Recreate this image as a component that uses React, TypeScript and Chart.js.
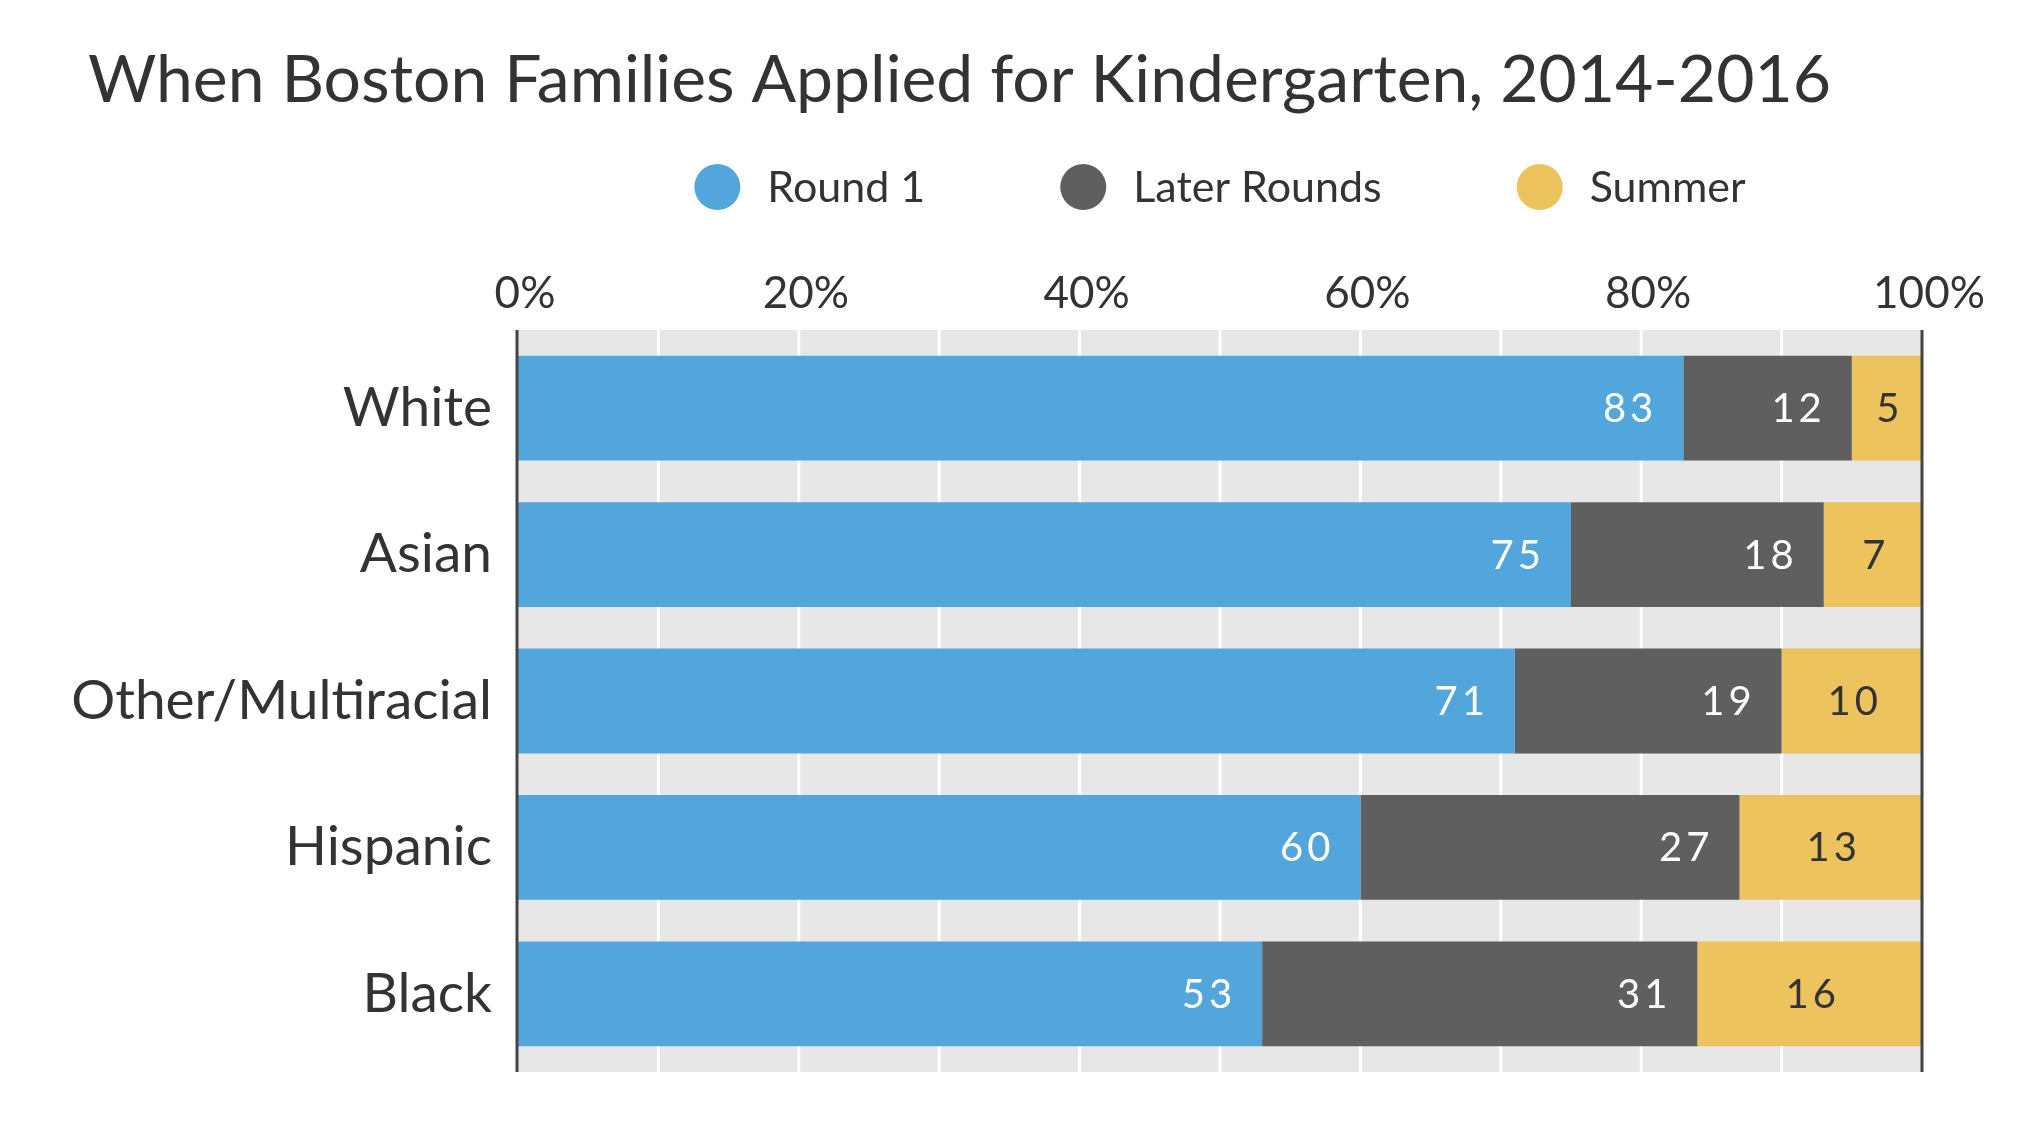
import React, { useEffect, useRef } from "react";
import { Chart, registerables } from "chart.js";

Chart.register(...registerables);

const titleText = "When Boston Families Applied for Kindergarten, 2014-2016";
const categories = ["White", "Asian", "Other/Multiracial", "Hispanic", "Black"];
const seriesNames = ["Round 1", "Later Rounds", "Summer"];
const round1 = [83, 75, 71, 60, 53];
const laterRounds = [12, 18, 19, 27, 31];
const summer = [5, 7, 10, 13, 16];
const xLabelEvery = 20;

const FONT = "Lato, 'Source Sans Pro', 'Open Sans', sans-serif";
const COLORS = ["#52a6db", "#5f5f5f", "#ecc35c"];
const LABEL_COLORS = ["#ffffff", "#ffffff", "#333333"];
const TEXT = "#333333";
const EXT = 5;

const decorPlugin = {
  id: "decor",
  beforeDatasetsDraw(chart: any) {
    const { ctx, chartArea } = chart;
    const xs = chart.scales.x;
    const top = chartArea.top - EXT;
    const bottom = chartArea.bottom + EXT;
    ctx.save();
    ctx.fillStyle = "#e7e7e7";
    ctx.fillRect(chartArea.left, top, chartArea.right - chartArea.left, bottom - top);
    ctx.strokeStyle = "#ffffff";
    ctx.lineWidth = 3;
    xs.ticks.forEach((t: any) => {
      if (t.value <= xs.min || t.value >= xs.max) return;
      const px = xs.getPixelForValue(t.value);
      ctx.beginPath();
      ctx.moveTo(px, top);
      ctx.lineTo(px, bottom);
      ctx.stroke();
    });
    ctx.restore();
  },
  afterDatasetsDraw(chart: any) {
    const { ctx, chartArea } = chart;
    const xs = chart.scales.x;
    const top = chartArea.top - EXT;
    const bottom = chartArea.bottom + EXT;
    ctx.save();
    // value labels
    ctx.font = `40px ${FONT}`;
    (ctx as any).letterSpacing = "4px";
    ctx.textBaseline = "middle";
    chart.data.datasets.forEach((ds: any, di: number) => {
      const meta = chart.getDatasetMeta(di);
      meta.data.forEach((bar: any, i: number) => {
        const v = ds.data[i];
        ctx.fillStyle = LABEL_COLORS[di];
        if (di < 2) {
          ctx.textAlign = "right";
          ctx.fillText(String(v), bar.x - 26, bar.y + 1);
        } else {
          ctx.textAlign = "center";
          ctx.fillText(String(v), (bar.x + bar.base) / 2 + 3, bar.y + 1);
        }
      });
    });
    (ctx as any).letterSpacing = "0px";
    // axis lines at 0% and 100%
    ctx.strokeStyle = "#444444";
    ctx.lineWidth = 3;
    [xs.min, xs.max].forEach((v: number, k: number) => {
      const px = xs.getPixelForValue(v) + (k === 0 ? -1 : 0);
      ctx.beginPath();
      ctx.moveTo(px, top);
      ctx.lineTo(px, bottom);
      ctx.stroke();
    });
    ctx.restore();
  },
  afterDraw(chart: any) {
    const { ctx, chartArea } = chart;
    ctx.save();
    // title
    ctx.font = `66px ${FONT}`;
    ctx.fillStyle = TEXT;
    ctx.textBaseline = "middle";
    ctx.textAlign = "left";
    ctx.fillText(titleText, 88, 81);
    // legend
    const r = 23;
    const textOff = 50;
    const gap = 158;
    const cy = 187;
    ctx.font = `43px ${FONT}`;
    const names = chart.data.datasets.map((d: any) => d.label);
    const widths = names.map((n: string) => ctx.measureText(n).width);
    let total = 0;
    widths.forEach((w: number, i: number) => {
      total += r + textOff + w + (i < widths.length - 1 ? gap - r : 0);
    });
    let x = (chartArea.left + chartArea.right) / 2 - total / 2;
    names.forEach((n: string, i: number) => {
      const cx = x + r;
      ctx.fillStyle = chart.data.datasets[i].backgroundColor;
      ctx.beginPath();
      ctx.arc(cx, cy, r, 0, Math.PI * 2);
      ctx.fill();
      ctx.fillStyle = TEXT;
      ctx.fillText(n, cx + textOff, cy + 1);
      x = cx + textOff + widths[i] + gap - r;
    });
    ctx.restore();
  },
};

export default function App() {
  const ref = useRef<HTMLCanvasElement | null>(null);
  useEffect(() => {
    if (!ref.current) return;
    const chart = new Chart(ref.current, {
      type: "bar",
      data: {
        labels: categories,
        datasets: [round1, laterRounds, summer].map((d, i) => ({
          label: seriesNames[i],
          data: d,
          backgroundColor: COLORS[i],
          borderWidth: 0,
          barPercentage: 0.716,
          categoryPercentage: 1,
        })),
      },
      options: {
        indexAxis: "y",
        animation: false,
        responsive: true,
        maintainAspectRatio: false,
        layout: { padding: { left: 0, right: 98, top: 255, bottom: 58 } },
        plugins: {
          legend: { display: false },
          tooltip: { enabled: false },
          title: { display: false },
        },
        scales: {
          x: {
            position: "top",
            stacked: true,
            min: 0,
            max: 100,
            grid: { display: false, drawTicks: false },
            border: { display: false },
            ticks: {
              stepSize: 10,
              autoSkip: false,
              maxRotation: 0,
              padding: 15,
              labelOffset: 7,
              color: TEXT,
              font: { family: FONT, size: 44 },
              callback: (v: any) => (Number(v) % xLabelEvery === 0 ? `${v}%` : ""),
            },
            afterFit: (s: any) => {
              s.height = 80;
            },
          },
          y: {
            stacked: true,
            grid: { display: false, drawTicks: false },
            border: { display: false },
            ticks: {
              padding: 26,
              color: TEXT,
              font: { family: FONT, size: 55 },
            },
            afterFit: (s: any) => {
              s.width = 518;
            },
          },
        },
      },
      plugins: [decorPlugin],
    });
    return () => chart.destroy();
  }, []);
  return (
    <div style={{ position: "absolute", left: 0, top: 0, width: 2020, height: 1126, background: "#fff" }}>
      <canvas ref={ref} />
    </div>
  );
}
